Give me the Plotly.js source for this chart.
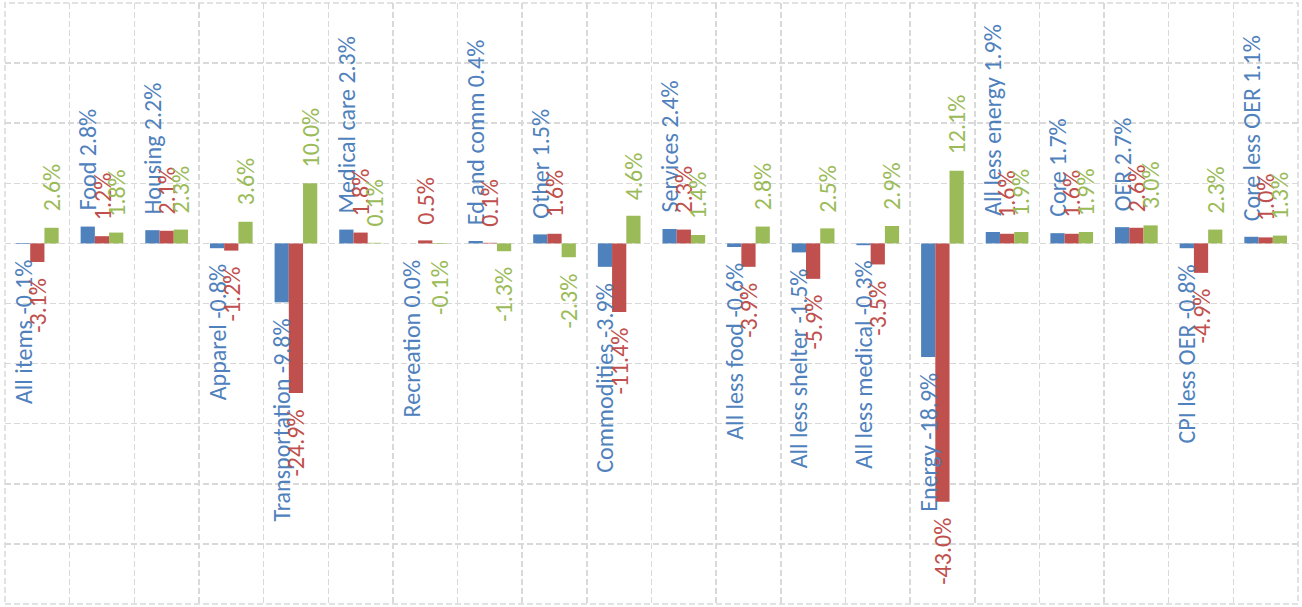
<!DOCTYPE html>
<html>
<head>
<meta charset="utf-8">
<script src="https://cdn.plot.ly/plotly-3.0.1.min.js"></script>
<style>html,body{margin:0;padding:0;background:#fff;}#chart{width:1302px;height:607px;}</style>
</head>
<body>
<div id="chart"></div>
<script>
var categories = ["All items","Food","Housing","Apparel","Transportation","Medical care","Recreation","Ed and comm","Other","Commodities","Services","All less food","All less shelter","All less medical","Energy","All less energy","Core","OER","CPI less OER","Core less OER"];
var seriesA = [-0.1, 2.8, 2.2, -0.8, -9.8, 2.3, 0.0, 0.4, 1.5, -3.9, 2.4, -0.6, -1.5, -0.3, -18.9, 1.9, 1.7, 2.7, -0.8, 1.1];
var seriesB = [-3.1, 1.2, 2.1, -1.2, -24.9, 1.8, 0.5, 0.1, 1.6, -11.4, 2.3, -3.9, -5.9, -3.5, -43.0, 1.6, 1.6, 2.6, -4.9, 1.0];
var seriesC = [2.6, 1.8, 2.3, 3.6, 10.0, 0.1, -0.1, -1.3, -2.3, 4.6, 1.4, 2.8, 2.5, 2.9, 12.1, 1.9, 1.9, 3.0, 2.3, 1.3];

var colors = ["#4F81BD", "#C0504D", "#9BBB59"];
var FONT = "Carlito, Calibri, Lato, sans-serif";
var FS = 24;
var W = 1302, H = 607;
var M = {l: 5, r: 4, t: 3, b: 3, pad: 0};
var BARGAP = 0.34;
var GAP = 15;

function pct(v){ return v.toFixed(1) + "%"; }

var seriesList = [seriesA, seriesB, seriesC];
var data = seriesList.map(function(vals, s){
  return {
    type: "bar",
    x: categories,
    y: vals,
    marker: {color: colors[s]},
    hoverinfo: "none",
    showlegend: false
  };
});

var barPx = (W - M.l - M.r) / categories.length * (1 - BARGAP) / 3;
var annotations = [];
seriesList.forEach(function(vals, s){
  vals.forEach(function(v, i){
    var up = v > 0;
    annotations.push({
      x: categories[i], y: v, xref: "x", yref: "y",
      text: (s === 0 ? categories[i] + " " : "") + pct(v),
      showarrow: false,
      textangle: -90,
      xanchor: "center",
      yanchor: up ? "bottom" : "top",
      xshift: (s - 1) * barPx,
      yshift: up ? GAP : -GAP,
      borderpad: 0,
      font: {family: FONT, size: FS, color: colors[s]}
    });
  });
});

var gridStyle = {showgrid: true, gridcolor: "#D9D9D9", gridwidth: 1.5, griddash: "6px,3px"};

var layout = {
  width: W, height: H,
  margin: M,
  paper_bgcolor: "#ffffff",
  plot_bgcolor: "#ffffff",
  barmode: "group",
  bargap: BARGAP,
  bargroupgap: 0,
  font: {family: FONT},
  annotations: annotations,
  shapes: [{type: "rect", xref: "paper", yref: "paper", x0: 0, x1: 1, y0: 0, y1: 1,
            line: {color: "#D9D9D9", width: 1.5, dash: "6px,3px"}, layer: "below"}],
  xaxis: Object.assign({type: "category", tickson: "boundaries", showticklabels: false, ticks: "", zeroline: false, showline: false}, gridStyle),
  yaxis: Object.assign({range: [-60, 40], dtick: 10, tick0: 0, showticklabels: false, ticks: "", zeroline: false, showline: false}, gridStyle)
};

Plotly.newPlot("chart", data, layout, {staticPlot: true, displayModeBar: false});
</script>
</body>
</html>
